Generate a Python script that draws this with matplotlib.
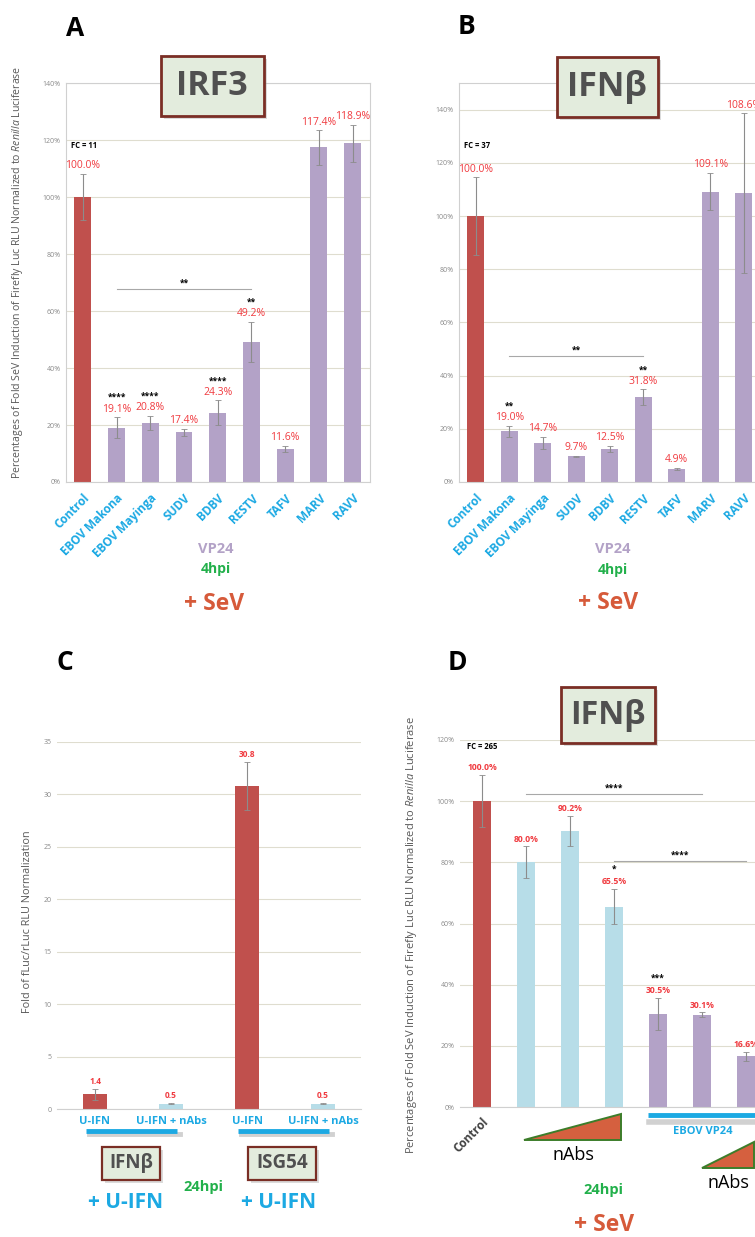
import matplotlib
matplotlib.use("Agg")
import matplotlib.pyplot as plt
from matplotlib.patches import Rectangle, Polygon
from matplotlib.lines import Line2D
from matplotlib.transforms import blended_transform_factory
from matplotlib.ticker import FuncFormatter, MultipleLocator

plt.rcParams['font.family'] = ['Open Sans', 'DejaVu Sans']
plt.rcParams['mathtext.fontset'] = 'custom'
plt.rcParams['mathtext.rm'] = 'Open Sans'
plt.rcParams['mathtext.it'] = 'Open Sans:italic'

# ---- data -------------------------------------------------------------
virus_labels = ['Control', 'EBOV Makona', 'EBOV Mayinga', 'SUDV', 'BDBV',
                'RESTV', 'TAFV', 'MARV', 'RAVV']
irf3_values = [100.0, 19.1, 20.8, 17.4, 24.3, 49.2, 11.6, 117.4, 118.9]
irf3_errors = [8.0, 3.6, 2.4, 1.2, 4.3, 7.0, 1.2, 6.0, 6.5]
irf3_stars = ['', '****', '****', '', '****', '**', '', '', '']

ifnb_values = [100.0, 19.0, 14.7, 9.7, 12.5, 31.8, 4.9, 109.1, 108.6]
ifnb_errors = [14.5, 2.0, 2.4, 0.2, 1.1, 3.0, 0.3, 7.0, 30.0]
ifnb_stars = ['', '**', '', '', '', '**', '', '', '']

uifn_labels = ['U-IFN', 'U-IFN + nAbs', 'U-IFN', 'U-IFN + nAbs']
uifn_values = [1.4, 0.5, 30.8, 0.5]
uifn_errors = [0.5, 0.05, 2.3, 0.05]

nabs_values = [100.0, 80.0, 90.2, 65.5, 30.5, 30.1, 16.6]
nabs_errors = [8.5, 5.2, 5.0, 5.7, 5.2, 0.8, 1.5]
nabs_stars = ['', '', '', '*', '***', '', '']

# ---- styles -----------------------------------------------------------
RED = '#c0504d'
PURPLE = '#b3a2c7'
LIGHTBLUE = '#b7dde8'
LABEL_RED = '#f03a3f'
BLUE = '#1ca9e3'
GREEN = '#22b04b'
SEV = '#d65a3a'
GRID = '#dfddcf'
TICK = '#8a8a8a'

W, H = 755, 1237
fig = plt.figure(figsize=(W / 100, H / 100), dpi=100)


def px_axes(left, top, right, bottom):
    return fig.add_axes([left / W, 1 - bottom / H, (right - left) / W, (bottom - top) / H])


def ftext(x, y, s, **kw):
    kw.setdefault('ha', 'center')
    kw.setdefault('va', 'center')
    fig.text(x / W, 1 - y / H, s, **kw)


def title_box(cx, cy, w, h, s, size, lw=2.0):
    x0 = (cx - w / 2) / W
    y0 = 1 - (cy + h / 2) / H
    fig.add_artist(Rectangle((x0 + 3 / W, y0 - 3 / H), w / W, h / H, transform=fig.transFigure,
                             facecolor='#999999', alpha=0.35, edgecolor='none', zorder=4))
    fig.add_artist(Rectangle((x0, y0), w / W, h / H, transform=fig.transFigure,
                             facecolor='#e3ecdd', edgecolor='#7a2e25', lw=lw, zorder=5))
    fig.text(cx / W, 1 - cy / H, s, ha='center', va='center', fontsize=size,
             fontweight='bold', color='#505050', zorder=6)


def style_axes(ax, ymax, step, pct=True, frame=True):
    ax.set_ylim(0, ymax)
    ax.yaxis.set_major_locator(MultipleLocator(step))
    if pct:
        ax.yaxis.set_major_formatter(FuncFormatter(lambda v, p: f'{v:.0f}%'))
    ax.grid(axis='y', color=GRID, lw=0.8, zorder=0)
    ax.set_axisbelow(True)
    for sp in ax.spines.values():
        sp.set_color('#d0d0d0')
        sp.set_linewidth(0.8)
        sp.set_visible(frame)
    ax.spines['bottom'].set_visible(True)
    ax.tick_params(axis='y', length=0, labelsize=5, labelcolor=TICK, pad=4)
    ax.tick_params(axis='x', length=0)


def value_labels(ax, values, errors, stars, fmt, size, weight, off=2, star_off=11):
    for xi, (v, e, s) in enumerate(zip(values, errors, stars)):
        ax.annotate(fmt.format(v), (xi, v + e), xytext=(0, off), textcoords='offset points',
                    ha='center', va='bottom', color=LABEL_RED, fontsize=size,
                    fontweight=weight, annotation_clip=False)
        if s:
            ax.annotate(s, (xi, v + e), xytext=(0, star_off), textcoords='offset points',
                        ha='center', va='bottom', color='black', fontsize=6,
                        fontweight='bold', annotation_clip=False)


YLABEL = (r'Percentages of Fold SeV Induction of Firefly Luc RLU Normalized to '
          r'$\mathit{Renilla}$ Luciferase')


def virus_panel(ax, values, errors, stars, ymax, fc, fc_y, sig_y):
    x = list(range(len(values)))
    colors = [RED] + [PURPLE] * (len(values) - 1)
    ax.bar(x, values, width=0.5, color=colors, zorder=2)
    ax.errorbar(x, values, yerr=errors, fmt='none', ecolor='#8c8c8c', elinewidth=0.8,
                capsize=2, capthick=0.6, zorder=3)
    ax.set_xlim(-0.5, len(values) - 0.5)
    style_axes(ax, ymax, 20)
    ax.set_xticks(x)
    ax.set_xticklabels(virus_labels, rotation=45, ha='right', va='top',
                       rotation_mode='anchor', color=BLUE, fontsize=8.5, fontweight='bold')
    ax.tick_params(axis='x', pad=7)
    value_labels(ax, values, errors, stars, '{:.1f}%', 7.5, 'normal')
    ax.text(-0.35, fc_y, fc, fontsize=5.5, fontweight='bold', va='center')
    ax.plot([1, 5], [sig_y, sig_y], color='#a8a8a8', lw=0.8, zorder=3)
    ax.annotate('**', (3, sig_y), xytext=(0, 1), textcoords='offset points',
                ha='center', va='bottom', fontsize=6, fontweight='bold')


# ---- Panel A ----------------------------------------------------------
axA = px_axes(66, 83, 369.5, 482)
virus_panel(axA, irf3_values, irf3_errors, irf3_stars, 140, 'FC = 11', 118, 67.7)
axA.set_ylabel(YLABEL, fontsize=7.6, color='#595959')
axA.yaxis.set_label_coords(-41 / 303, 0.526)
title_box(212, 86, 103, 60, 'IRF3', 24.5)
ftext(75, 28, 'A', fontsize=19, fontweight='bold')
ftext(216, 549, 'VP24', fontsize=10.5, fontweight='bold', color=PURPLE)
ftext(216, 569, '4hpi', fontsize=10, fontweight='bold', color=GREEN)
ftext(214, 604, '+ SeV', fontsize=16.5, fontweight='bold', color=SEV)

# ---- Panel B ----------------------------------------------------------
axB = px_axes(459, 83, 760.5, 482)
virus_panel(axB, ifnb_values, ifnb_errors, ifnb_stars, 150, 'FC = 37', 126.5, 47.2)
title_box(607, 87, 101, 60, 'IFNβ', 24.5)
ftext(466, 27, 'B', fontsize=19, fontweight='bold')
ftext(613, 549, 'VP24', fontsize=10.5, fontweight='bold', color=PURPLE)
ftext(613, 570, '4hpi', fontsize=10, fontweight='bold', color=GREEN)
ftext(608, 603, '+ SeV', fontsize=16.5, fontweight='bold', color=SEV)

# ---- Panel C ----------------------------------------------------------
axC = px_axes(57, 741.7, 361, 1109)
xc = list(range(len(uifn_values)))
axC.bar(xc, uifn_values, width=0.32, color=[RED, LIGHTBLUE, RED, LIGHTBLUE], zorder=2)
axC.errorbar(xc, uifn_values, yerr=uifn_errors, fmt='none', ecolor='#8c8c8c',
             elinewidth=0.8, capsize=2, capthick=0.6, zorder=3)
axC.set_xlim(-0.5, 3.5)
style_axes(axC, 35, 5, pct=False, frame=False)
axC.set_xticks(xc)
axC.set_xticklabels(uifn_labels, color=BLUE, fontsize=8, fontweight='bold')
axC.tick_params(axis='x', pad=5)
value_labels(axC, uifn_values, uifn_errors, ['', '', '', ''], '{:.1f}', 6, 'bold')
axC.set_ylabel('Fold of fLuc/rLuc RLU Normalization', fontsize=7.8, color='#595959')
axC.yaxis.set_label_coords(-24 / 304, 0.51)
trC = blended_transform_factory(axC.transData, axC.transAxes)
for x0, x1 in [(-0.12, 1.08), (1.88, 3.08)]:
    axC.add_line(Line2D([x0 + 0.04, x1 + 0.04], [-0.068, -0.068], transform=trC, color='#9a9a9a',
                        lw=3.5, alpha=0.45, clip_on=False))
    axC.add_line(Line2D([x0, x1], [-0.06, -0.06], transform=trC, color=BLUE, lw=3.5,
                        clip_on=False, solid_capstyle='butt'))
title_box(131, 1163, 58, 33, 'IFNβ', 13.5, lw=1.6)
title_box(282, 1163, 68, 33, 'ISG54', 13.5, lw=1.6)
ftext(203, 1187, '24hpi', fontsize=10.5, fontweight='bold', color=GREEN)
ftext(126, 1202, '+ U-IFN', fontsize=15, fontweight='bold', color=BLUE)
ftext(279, 1202, '+ U-IFN', fontsize=15, fontweight='bold', color=BLUE)
ftext(65, 663, 'C', fontsize=19, fontweight='bold')

# ---- Panel D ----------------------------------------------------------
axD = px_axes(460, 740, 768, 1107)
xd = list(range(len(nabs_values)))
axD.bar(xd, nabs_values, width=0.4, color=[RED] + [LIGHTBLUE] * 3 + [PURPLE] * 3, zorder=2)
axD.errorbar(xd, nabs_values, yerr=nabs_errors, fmt='none', ecolor='#8c8c8c',
             elinewidth=0.8, capsize=2, capthick=0.6, zorder=3)
axD.set_xlim(-0.5, 6.5)
style_axes(axD, 120, 20, frame=False)
axD.set_xticks([0])
axD.set_xticklabels(['Control'], rotation=45, ha='right', va='top', rotation_mode='anchor',
                    color='#404040', fontsize=8.5, fontweight='bold')
axD.tick_params(axis='x', pad=6)
value_labels(axD, nabs_values, nabs_errors, nabs_stars, '{:.1f}%', 6.2, 'bold')
axD.text(-0.35, 117.8, 'FC = 265', fontsize=5.5, fontweight='bold', va='center')
for (a, b), y in [((1, 5), 102.3), ((3, 6), 80.5)]:
    axD.plot([a, b], [y, y], color='#a8a8a8', lw=0.8, zorder=3)
    axD.annotate('****', ((a + b) / 2, y), xytext=(0, 1), textcoords='offset points',
                 ha='center', va='bottom', fontsize=6, fontweight='bold')
axD.set_ylabel(YLABEL, fontsize=8, color='#595959')
axD.yaxis.set_label_coords(-41 / 308, 0.469)
trD = blended_transform_factory(axD.transData, axD.transAxes)
for pts in ([(0.95, -0.09), (3.16, -0.09), (3.16, -0.019)],
            [(5.0, -0.166), (6.18, -0.166), (6.18, -0.095)]):
    axD.add_patch(Polygon(pts, closed=True, transform=trD, facecolor='#d5603f',
                          edgecolor='#3c7d2a', lw=1.4, clip_on=False))
axD.add_line(Line2D([3.8, 7.0], [-0.04, -0.04], transform=trD, color='#9a9a9a', lw=4,
                    alpha=0.45, clip_on=False))
axD.add_line(Line2D([3.77, 7.0], [-0.022, -0.022], transform=trD, color=BLUE, lw=3.5,
                    clip_on=False, solid_capstyle='butt'))
axD.text(5.02, -0.068, 'EBOV VP24', transform=trD, ha='center', va='center',
         color=BLUE, fontsize=8, fontweight='bold')
axD.text(2.07, -0.13, 'nAbs', transform=trD, ha='center', va='center', fontsize=13)
axD.text(5.6, -0.207, 'nAbs', transform=trD, ha='center', va='center', fontsize=13)
title_box(608, 715, 94, 56, 'IFNβ', 23)
ftext(603, 1190, '24hpi', fontsize=10.5, fontweight='bold', color=GREEN)
ftext(604, 1225, '+ SeV', fontsize=16.5, fontweight='bold', color=SEV)
ftext(457, 663, 'D', fontsize=19, fontweight='bold')

fig.savefig('out.png', dpi=100, facecolor='white')
